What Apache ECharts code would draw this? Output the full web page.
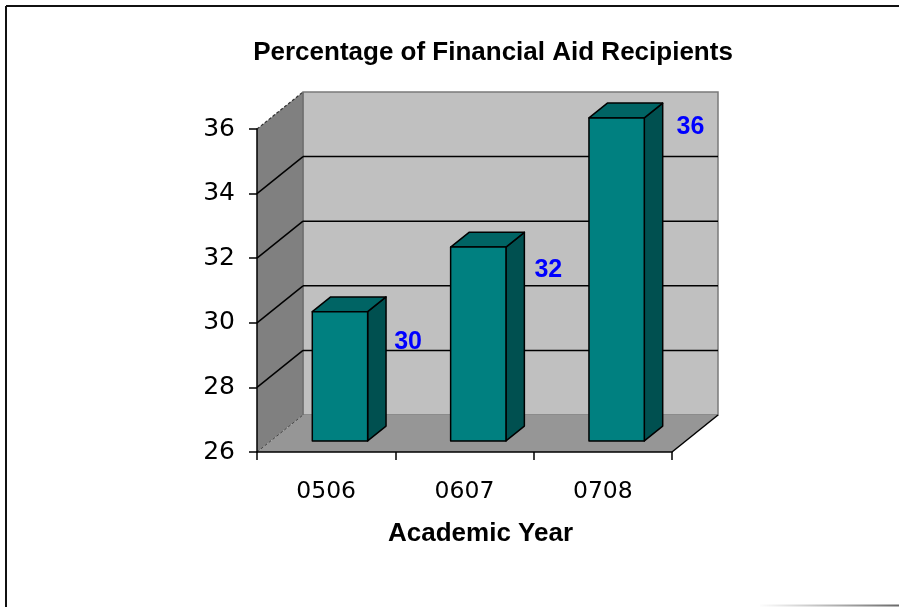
<!DOCTYPE html>
<html><head><meta charset="utf-8">
<script src="https://cdn.jsdelivr.net/npm/echarts@6/dist/echarts.min.js"></script>
<style>html,body{margin:0;padding:0;background:#fff}#c{width:899px;height:607px}</style>
</head><body><div id="c"></div>
<script>
const chartTitle = 'Percentage of Financial Aid Recipients';
const xAxisTitle = 'Academic Year';
const categories = ['0506', '0607', '0708'];
const values = [30, 32, 36];
const yTicks = [26, 28, 30, 32, 34, 36];

const DX = 46, DY = -37;            // 3D depth offset of the back plane
const BAR_D0 = 0.3, BAR_D1 = 0.7;   // bar depth span (fraction)
const BAR_W = 0.4;                  // bar width (fraction of category)
const yMin = yTicks[0], yMax = yTicks[yTicks.length - 1];

const chart = echarts.init(document.getElementById('c'), null, { renderer: 'canvas' });

function frame(api) {
  const bw = api.size([1, 0])[0];
  const l = api.coord([0, yMin])[0] - bw / 2;
  const r = api.coord([categories.length - 1, yMin])[0] + bw / 2;
  const b = api.coord([0, yMin])[1];
  const t = api.coord([0, yMax])[1];
  return { l, r, b, t, bw };
}

const wallSeries = {
  type: 'custom', z: -1, silent: true, clip: false,
  data: [[0, yMin]],
  renderItem(params, api) {
    const { l, r, b, t } = frame(api);
    return {
      type: 'group', children: [
        { type: 'polygon', shape: { points: [[l, b], [l + DX, b + DY], [l + DX, t + DY], [l, t]] }, style: { fill: '#808080' } },
        { type: 'rect', shape: { x: l + DX, y: t + DY, width: r - l, height: b - t }, style: { fill: '#C0C0C0', stroke: '#7a7a7a', lineWidth: 1.5 } },
        { type: 'polygon', shape: { points: [[l, b], [r, b], [r + DX, b + DY], [l + DX, b + DY]] }, style: { fill: '#969696' } },
        { type: 'line', shape: { x1: r, y1: b, x2: r + DX, y2: b + DY }, style: { stroke: '#000', lineWidth: 1.5 } },
        { type: 'line', shape: { x1: l, y1: b, x2: l + DX, y2: b + DY }, style: { stroke: '#444', lineWidth: 1, lineDash: [3, 2] } },
        { type: 'line', shape: { x1: l, y1: t, x2: l + DX, y2: t + DY }, style: { stroke: '#333', lineWidth: 1.2, lineDash: [3, 2] } },
        { type: 'line', shape: { x1: l + DX, y1: t + DY, x2: l + DX, y2: b + DY }, style: { stroke: '#6a6a6a', lineWidth: 1 } }
      ]
    };
  }
};

const gridSeries = {
  type: 'custom', z: -1, silent: true, clip: false,
  data: yTicks.slice(1, -1).map(v => [0, v]),
  renderItem(params, api) {
    const { l, r } = frame(api);
    const y = api.coord([0, api.value(1)])[1];
    return {
      type: 'group', children: [
        { type: 'line', shape: { x1: l, y1: y, x2: l + DX, y2: y + DY }, style: { stroke: '#000', lineWidth: 1.5 } },
        { type: 'line', shape: { x1: l + DX, y1: y + DY, x2: r + DX, y2: y + DY }, style: { stroke: '#000', lineWidth: 1.5 } }
      ]
    };
  }
};

const barSeries = {
  type: 'custom', z: 2, clip: false,
  data: categories.map((c, i) => [i, values[i]]),
  renderItem(params, api) {
    const i = api.value(0), v = api.value(1);
    const c = api.coord([i, v]);
    const c0 = api.coord([i, yMin]);
    const bw = api.size([1, 0])[0];
    const w = bw * BAR_W;
    const fx0 = c[0] - w / 2 + DX * BAR_D0, fx1 = fx0 + w;
    const ftop = c[1] + DY * BAR_D0, fbot = c0[1] + DY * BAR_D0;
    const ddx = DX * (BAR_D1 - BAR_D0), ddy = DY * (BAR_D1 - BAR_D0);
    const stroke = { stroke: '#000', lineWidth: 1.5, lineJoin: 'round' };
    const h = c0[1] - c[1];
    return {
      type: 'group', children: [
        { type: 'polygon', shape: { points: [[fx1, ftop], [fx1 + ddx, ftop + ddy], [fx1 + ddx, fbot + ddy], [fx1, fbot]] }, style: Object.assign({ fill: '#005050' }, stroke) },
        { type: 'polygon', shape: { points: [[fx0, ftop], [fx1, ftop], [fx1 + ddx, ftop + ddy], [fx0 + ddx, ftop + ddy]] }, style: Object.assign({ fill: '#006464' }, stroke) },
        { type: 'rect', shape: { x: fx0, y: ftop, width: w, height: fbot - ftop }, style: Object.assign({ fill: '#008080' }, stroke) },
        { type: 'text', x: c[0] + 78 + 0.03 * h, y: c[1] + 33 - 0.107 * h,
          style: { text: String(v), fill: '#0000FF', font: 'bold 25px "Liberation Sans", Arial, sans-serif', align: 'center', verticalAlign: 'middle' } }
      ]
    };
  }
};

chart.setOption({
  animation: false,
  backgroundColor: '#ffffff',
  title: {
    text: chartTitle, left: 488, top: 35, textAlign: 'center',
    textStyle: { fontFamily: '"Liberation Sans", Arial, sans-serif', fontWeight: 'bold', fontSize: 26, color: '#000' }
  },
  grid: { left: 257, right: 227, top: 129, bottom: 155 },
  xAxis: {
    type: 'category', data: categories, boundaryGap: true,
    axisLine: { show: true, lineStyle: { color: '#000', width: 1.5 } },
    axisTick: { show: true, length: 8, lineStyle: { color: '#000', width: 1.5 } },
    axisLabel: { margin: 28, fontSize: 23.5, fontFamily: '"DejaVu Sans", sans-serif', color: '#000' },
    splitLine: { show: false },
    name: xAxisTitle, nameLocation: 'middle', nameGap: 69,
    nameTextStyle: { fontSize: 26, fontWeight: 'bold', fontFamily: '"Liberation Sans", Arial, sans-serif', color: '#000', padding: [0, 0, 0, 32] }
  },
  yAxis: {
    type: 'value', min: yMin, max: yMax, interval: 2,
    axisLine: { show: true, lineStyle: { color: '#000', width: 1.5 } },
    axisTick: { show: true, length: 8, lineStyle: { color: '#000', width: 1.5 } },
    axisLabel: { margin: 22, fontSize: 25, fontFamily: '"DejaVu Sans", sans-serif', color: '#000' },
    splitLine: { show: false }
  },
  graphic: [
    { type: 'line', shape: { x1: 6, y1: 6, x2: 899, y2: 6 }, style: { stroke: '#111', lineWidth: 2 } },
    { type: 'line', shape: { x1: 6, y1: 6, x2: 6, y2: 607 }, style: { stroke: '#111', lineWidth: 2 } },
    { type: 'line', shape: { x1: 760, y1: 605.5, x2: 899, y2: 605.5 },
      style: { lineWidth: 2, stroke: new echarts.graphic.LinearGradient(0, 0, 1, 0, [{ offset: 0, color: 'rgba(120,120,120,0)' }, { offset: 1, color: '#666' }]) } }
  ],
  series: [wallSeries, gridSeries, barSeries]
});
</script>
</body></html>
